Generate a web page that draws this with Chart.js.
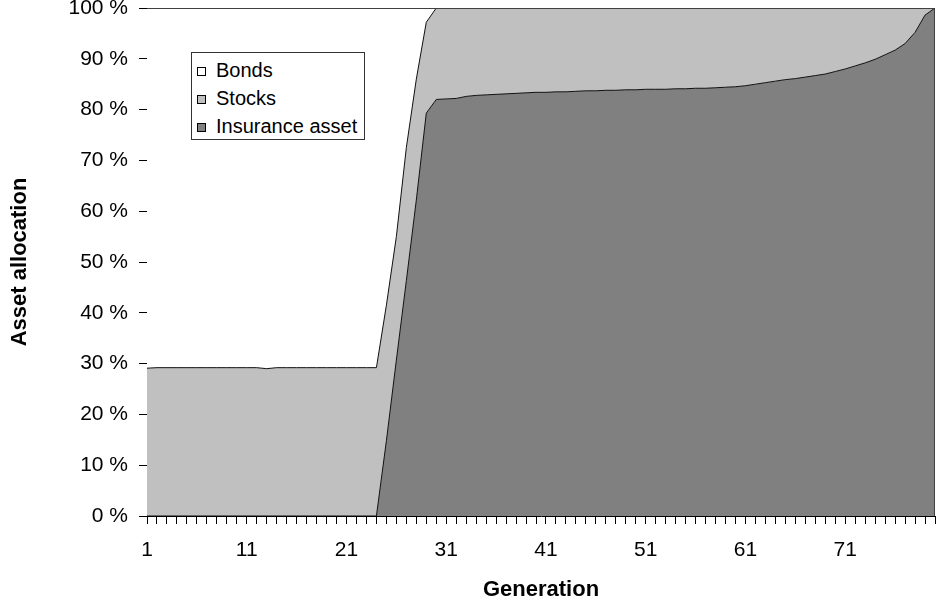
<!DOCTYPE html>
<html>
<head>
<meta charset="utf-8">
<script src="https://cdn.jsdelivr.net/npm/chart.js@4/dist/chart.umd.min.js"></script>
<style>
  html, body { margin: 0; padding: 0; background: #fff; }
  #wrap { position: relative; width: 937px; height: 605px; }
  #legend { position: absolute; left: 191px; top: 52px; width: 174px; height: 88px; box-sizing: border-box;
            border: 1px solid #333; background: #fff; font-family: "Liberation Sans", Arial, sans-serif; font-size: 20px; color: #000; }
  .row { position: absolute; left: 5px; height: 22px; line-height: 22px; white-space: nowrap; }
  .sw { display: inline-block; width: 9px; height: 9px; box-sizing: border-box; border: 1px solid #000; margin-right: 10px; vertical-align: 1px; }
</style>
</head>
<body>
<div id="wrap">
  <canvas id="c" width="937" height="605"></canvas>
  <div id="legend">
    <div class="row" style="top:6px"><span class="sw" style="background:#ffffff"></span>Bonds</div>
    <div class="row" style="top:34px"><span class="sw" style="background:#c0c0c0"></span>Stocks</div>
    <div class="row" style="top:62px"><span class="sw" style="background:#808080"></span>Insurance asset</div>
  </div>
</div>
<script>
const generations = Array.from({length: 80}, (_, i) => String(i + 1));

const insurance = [
  0,0,0,0,0,0,0,0,0,0,
  0,0,0,0,0,0,0,0,0,0,
  0,0,0,0,14.8,30.7,46.3,62.2,79.3,82.0,
  82.1,82.2,82.6,82.8,82.9,83.0,83.1,83.2,83.3,83.4,
  83.4,83.5,83.5,83.6,83.7,83.7,83.8,83.8,83.9,83.9,
  84.0,84.0,84.0,84.1,84.1,84.2,84.2,84.3,84.4,84.5,
  84.7,85.0,85.3,85.6,85.9,86.1,86.4,86.7,87.0,87.5,
  88.0,88.6,89.2,89.9,90.8,91.7,93.0,95.2,98.6,100
];
const stocks = [
  29.1,29.2,29.2,29.2,29.2,29.2,29.2,29.2,29.2,29.2,
  29.2,29.2,29.0,29.2,29.2,29.2,29.2,29.2,29.2,29.2,
  29.2,29.2,29.2,29.2,26.7,24.3,26.2,23.8,17.9,18.0,
  17.9,17.8,17.4,17.2,17.1,17.0,16.9,16.8,16.7,16.6,
  16.6,16.5,16.5,16.4,16.3,16.3,16.2,16.2,16.1,16.1,
  16.0,16.0,16.0,15.9,15.9,15.8,15.8,15.7,15.6,15.5,
  15.3,15.0,14.7,14.4,14.1,13.9,13.6,13.3,13.0,12.5,
  12.0,11.4,10.8,10.1,9.2,8.3,7.0,4.8,1.4,0
];
const bonds = [
  70.9,70.8,70.8,70.8,70.8,70.8,70.8,70.8,70.8,70.8,
  70.8,70.8,71.0,70.8,70.8,70.8,70.8,70.8,70.8,70.8,
  70.8,70.8,70.8,70.8,58.5,45.0,27.5,14.0,2.8,0,
  0,0,0,0,0,0,0,0,0,0,
  0,0,0,0,0,0,0,0,0,0,
  0,0,0,0,0,0,0,0,0,0,
  0,0,0,0,0,0,0,0,0,0,
  0,0,0,0,0,0,0,0,0,0
];
const yTicks = [0,10,20,30,40,50,60,70,80,90,100];

const FONT = '"Liberation Sans", Arial, sans-serif';

const edgePlugin = {
  id: 'edge',
  afterDatasetsDraw(chart) {
    const {ctx, chartArea: a} = chart;
    ctx.save();
    ctx.strokeStyle = '#404040';
    ctx.lineWidth = 1;
    ctx.beginPath();
    ctx.moveTo(a.left, Math.round(a.top) + 0.5);
    ctx.lineTo(Math.round(a.right) - 0.5, Math.round(a.top) + 0.5);
    ctx.lineTo(Math.round(a.right) - 0.5, a.bottom);
    ctx.stroke();
    ctx.restore();
  }
};

new Chart(document.getElementById('c'), {
  type: 'line',
  data: {
    labels: generations,
    datasets: [
      { label: 'Insurance asset', data: insurance, backgroundColor: '#808080', borderColor: '#111', borderWidth: 1, fill: 'origin', pointRadius: 0, tension: 0 },
      { label: 'Stocks', data: stocks, backgroundColor: '#c0c0c0', borderColor: '#111', borderWidth: 1, fill: '-1', pointRadius: 0, tension: 0 },
      { label: 'Bonds', data: bonds, backgroundColor: '#ffffff', borderColor: '#333', borderWidth: 1, fill: '-1', pointRadius: 0, tension: 0 }
    ]
  },
  options: {
    responsive: false,
    animation: false,
    layout: { padding: { top: 8, right: 2, left: 0, bottom: 0 } },
    plugins: { legend: { display: false }, tooltip: { enabled: false } },
    scales: {
      x: {
        type: 'category',
        offset: false,
        grid: { display: true, drawOnChartArea: false, drawTicks: true, tickLength: 8, tickColor: '#000', offset: false },
        border: { display: true, color: '#000', width: 1 },
        ticks: {
          autoSkip: false, maxRotation: 0, minRotation: 0, padding: 14, color: '#000',
          font: { family: FONT, size: 21 },
          callback: function(v, i) { return (i % 10 === 0) ? generations[i] : ''; }
        },
        title: { display: true, text: 'Generation', color: '#000', font: { family: FONT, size: 22, weight: 'bold' }, padding: { top: 0, bottom: 2 } },
        afterFit: function(s) { s.height = 89; s.paddingLeft = 0; s.paddingRight = 0; }
      },
      y: {
        stacked: true,
        min: 0, max: 100,
        afterBuildTicks: function(s) { s.ticks = yTicks.map(v => ({ value: v })); },
        grid: { display: true, drawOnChartArea: false, drawTicks: true, tickLength: 8, tickColor: '#000' },
        border: { display: true, color: '#000', width: 1 },
        ticks: { padding: 11, color: '#000', font: { family: FONT, size: 21 }, callback: v => v + ' %' },
        title: { display: true, text: 'Asset allocation', color: '#000', font: { family: FONT, size: 22, weight: 'bold' }, padding: { top: 7, bottom: 0 } },
        afterFit: function(s) { s.width = 147; s.paddingTop = 0; s.paddingBottom = 0; }
      }
    }
  },
  plugins: [edgePlugin]
});
</script>
</body>
</html>
